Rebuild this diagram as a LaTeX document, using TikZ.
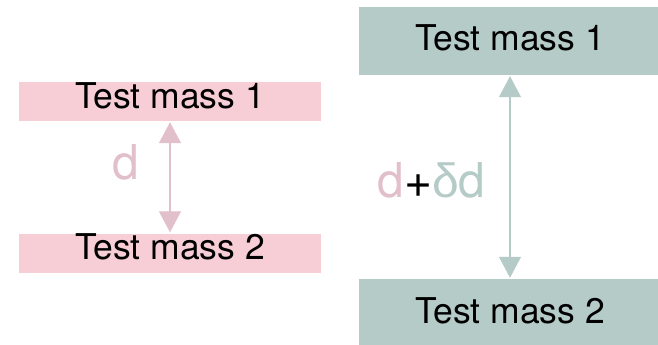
\documentclass[tikz,border=0pt]{standalone}
\usepackage{fontspec}
\setmainfont{TeX Gyre Heros}
\newfontfamily\greekfont{Liberation Sans}
\usetikzlibrary{arrows.meta}
\definecolor{massred}{HTML}{F7CED5}
\definecolor{distred}{HTML}{E2C0CB}
\definecolor{massteal}{HTML}{B5CBC7}
\tikzset{
  masspink/.style={fill=massred,minimum width=302pt,minimum height=39pt,inner sep=0pt,
    text height=25pt,text depth=12pt,font=\fontsize{35.5}{42}\selectfont},
  massgrey/.style={fill=massteal,minimum width=302pt,minimum height=68pt,inner sep=0pt,
    text height=25pt,text depth=5pt,font=\fontsize{35.5}{42}\selectfont},
  distlabel/.style={anchor=base,inner sep=0pt,font=\fontsize{48}{56}\selectfont},
  distarrow/.style={line width=1.1pt,{Triangle[width=22pt,length=21pt]}-{Triangle[width=22pt,length=21pt]},
    shorten <=1pt,shorten >=1pt}
}
\begin{document}
\begin{tikzpicture}[x=1pt,y=-1pt]
\useasboundingbox (0,0) rectangle (658,345);
\clip (0,0) rectangle (658,345);
\node[masspink] (l1) at (170,101.5) {Test mass 1};
\node[masspink] (l2) at (170,253) {Test mass 2};
\draw[distarrow,distred] (l1) -- (l2);
\node[distlabel,text=distred] (d) at (125.5,179) {d};
\node[massgrey] (r1) at (510,41) {Test mass 1};
\node[massgrey] (r2) at (510,313) {Test mass 2};
\draw[distarrow,massteal] (r1) -- (r2);
\node[distlabel] (dd) at (431.5,197) {{\color{distred}d}+{\color{massteal}{\greekfont δ}d}};
\end{tikzpicture}
\end{document}
